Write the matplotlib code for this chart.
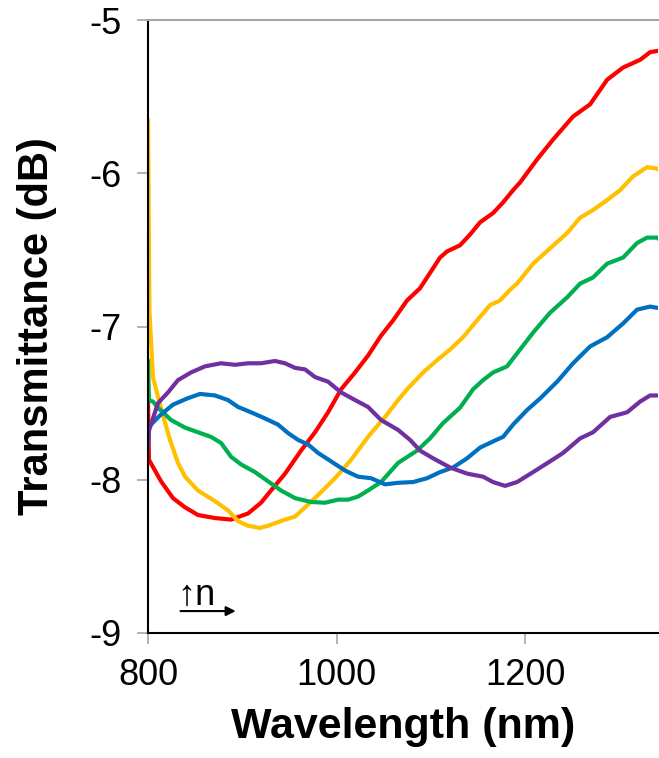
import matplotlib
matplotlib.use("Agg")
import matplotlib.pyplot as plt

plt.rcParams['font.family'] = ['Liberation Sans', 'DejaVu Sans']

# ---- data (wavelength nm, transmittance dB) ----
red_x = [800, 801, 813.8, 826.5, 839.3, 853, 871.1, 888.1, 906.1, 919.9, 930.5, 945.4, 962.3, 977.2,
         991, 1004.8, 1019.6, 1033.4, 1047.2, 1060, 1074.8, 1088.6, 1099.2, 1109.8, 1117.2, 1131,
         1141.6, 1152.3, 1166, 1176.7, 1187.3, 1194.7, 1212.7, 1229.7, 1250.9, 1269, 1287, 1304,
         1322, 1332.6, 1342]
red_y = [-7.48, -7.87, -8.01, -8.12, -8.18, -8.23, -8.25, -8.26, -8.22, -8.15, -8.07, -7.96, -7.81, -7.69,
         -7.56, -7.41, -7.30, -7.19, -7.06, -6.96, -6.83, -6.75, -6.65, -6.55, -6.51, -6.47,
         -6.40, -6.32, -6.26, -6.19, -6.11, -6.06, -5.91, -5.78, -5.63, -5.55, -5.39, -5.31,
         -5.26, -5.21, -5.20]

yellow_x = [800, 801.5, 805.3, 810.6, 815.9, 823.3, 831.8, 839.3, 853, 871.1, 884.9, 895.5, 906.1, 918.8,
            927.3, 945.4, 956, 966.6, 980.4, 998.4, 1015.4, 1033.4, 1051.5, 1065.3, 1074.8, 1091.8,
            1106.6, 1120.4, 1134.2, 1149.1, 1162.9, 1173.5, 1184.1, 1191.5, 1208.5, 1226.5, 1244.6,
            1258.4, 1272.1, 1287, 1300.8, 1314.6, 1329.4, 1340, 1342]
yellow_y = [-5.65, -6.90, -7.33, -7.46, -7.58, -7.74, -7.89, -7.98, -8.07, -8.14, -8.20, -8.27, -8.30, -8.315,
            -8.30, -8.26, -8.24, -8.18, -8.10, -7.99, -7.87, -7.72, -7.59, -7.48, -7.41, -7.30,
            -7.22, -7.15, -7.07, -6.96, -6.86, -6.83, -6.76, -6.72, -6.59, -6.49, -6.39,
            -6.29, -6.24, -6.175, -6.11, -6.02, -5.96, -5.97, -5.98]

green_x = [800, 801, 805.3, 810.6, 815.9, 824.4, 839.3, 853, 866.8, 877.5, 888.1, 898.7, 913.5, 927.3,
           941.1, 956, 973, 987.8, 1001.6, 1012.2, 1022.8, 1033.4, 1047.2, 1065.3, 1085.4, 1099.2,
           1113, 1131, 1144.8, 1155.4, 1166, 1180.9, 1194.7, 1208.5, 1226.5, 1244.6, 1258.4, 1272.1,
           1287, 1304, 1318.8, 1329.4, 1340, 1342]
green_y = [-7.22, -7.48, -7.49, -7.53, -7.56, -7.61, -7.66, -7.69, -7.72, -7.76, -7.85, -7.90, -7.95, -8.01,
           -8.07, -8.12, -8.145, -8.15, -8.13, -8.13, -8.11, -8.07, -8.015, -7.89, -7.81, -7.73,
           -7.63, -7.53, -7.41, -7.35, -7.30, -7.26, -7.15, -7.04, -6.91, -6.81, -6.72, -6.68,
           -6.59, -6.55, -6.455, -6.42, -6.42, -6.43]

blue_x = [800, 812.7, 826.5, 841.4, 855.2, 871.1, 884.9, 895.5, 909.3, 924.1, 937.9, 948.5, 959.2, 969.8,
          980.4, 994.2, 1009, 1022.8, 1036.6, 1051.5, 1065.3, 1081.2, 1096, 1109.8, 1123.6, 1138.5,
          1152.3, 1166, 1176.7, 1187.3, 1202.1, 1215.9, 1234, 1250.9, 1269, 1287, 1304, 1318.8,
          1332.6, 1342]
blue_y = [-7.66, -7.58, -7.51, -7.47, -7.44, -7.45, -7.48, -7.525, -7.56, -7.60, -7.64, -7.695, -7.74, -7.77,
          -7.825, -7.88, -7.94, -7.98, -7.99, -8.03, -8.02, -8.015, -7.99, -7.95, -7.92, -7.86,
          -7.79, -7.75, -7.72, -7.64, -7.545, -7.47, -7.36, -7.24, -7.13, -7.07, -6.98, -6.89,
          -6.87, -6.88]

purple_x = [800, 801, 810.6, 821.2, 831.8, 845.6, 860.5, 877.5, 892.3, 906.1, 919.9, 934.7, 945.4, 956,
            966.6, 977.2, 991, 1004.8, 1019.6, 1033.4, 1047.2, 1065.3, 1078, 1088.6, 1102.4, 1120.4,
            1138.5, 1155.4, 1166, 1178.8, 1191.5, 1208.5, 1226.5, 1240.3, 1258.4, 1272.1, 1290.2,
            1308.2, 1322, 1332.6, 1342]
purple_y = [-7.80, -7.68, -7.50, -7.43, -7.35, -7.30, -7.26, -7.24, -7.25, -7.24, -7.24, -7.225, -7.24, -7.27,
            -7.28, -7.33, -7.36, -7.43, -7.48, -7.525, -7.61, -7.675, -7.74, -7.81, -7.86, -7.92,
            -7.96, -7.98, -8.015, -8.04, -8.015, -7.95, -7.88, -7.825, -7.73, -7.69, -7.59,
            -7.56, -7.49, -7.45, -7.45]

x_ticks = [800, 1000, 1200]
y_ticks = [-9, -8, -7, -6, -5]

series = [
    (red_x, red_y, '#FF0000'),
    (yellow_x, yellow_y, '#FFC000'),
    (green_x, green_y, '#00B050'),
    (blue_x, blue_y, '#0070C0'),
    (purple_x, purple_y, '#7030A0'),
]

fig = plt.figure(figsize=(6.59, 7.58), dpi=100)
ax = fig.add_axes([148 / 659, 1 - 633 / 758, 510 / 659, 613 / 758])

for xs, ys, c in series:
    ax.plot(xs, ys, color=c, lw=3.0, solid_joinstyle='round', solid_capstyle='round', clip_on=True)

ax.set_xlim(800, 1341)
ax.set_ylim(-9, -5)
ax.set_xticks(x_ticks)
ax.set_yticks(y_ticks)
ax.set_xticklabels([str(v) for v in x_ticks])
ax.set_yticklabels([str(v) for v in y_ticks])

ax.spines['right'].set_visible(False)
ax.spines['top'].set_color('#A6A6A6')
ax.spines['top'].set_linewidth(1.5)
ax.spines['left'].set_color('black')
ax.spines['left'].set_linewidth(1.5)
ax.spines['bottom'].set_color('black')
ax.spines['bottom'].set_linewidth(1.5)

ax.tick_params(axis='both', direction='out', length=8, width=1.2, color='#A6A6A6',
               labelsize=26, labelcolor='black')
ax.tick_params(axis='y', pad=11)
ax.tick_params(axis='x', pad=10)

ax.set_xlabel('Wavelength (nm)', fontsize=31, fontweight='bold', labelpad=10)
ax.set_ylabel('Transmittance (dB)', fontsize=30, fontweight='bold')
ax.yaxis.set_label_coords((57 - 148) / 510, 0.5)

# annotation: increasing n
ax.text(831.5, -8.82, '↑n', fontsize=26, ha='left', va='baseline')
ax.annotate('', xy=(896, -8.857), xytext=(831.5, -8.857),
            arrowprops=dict(arrowstyle='-|>', color='black', lw=1.5, mutation_scale=14))

fig.savefig('out.png', dpi=100)
